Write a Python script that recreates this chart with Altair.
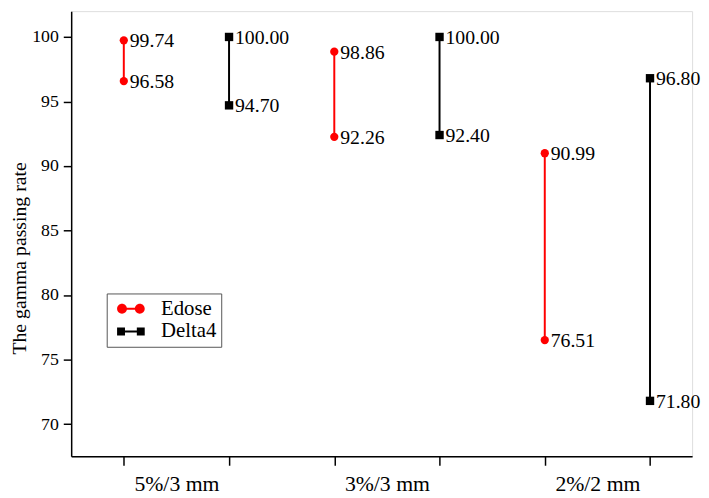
import altair as alt
import pandas as pd

criteria = ["5%/3 mm", "3%/3 mm", "2%/2 mm"]
devices = ["Edose", "Delta4"]
edose_low = [96.58, 92.26, 76.51]
edose_high = [99.74, 98.86, 90.99]
delta_low = [94.70, 92.40, 71.80]
delta_high = [100.00, 100.00, 96.80]
colors = ["#ff0000", "#000000"]
FONT = "Liberation Serif"

rows = []
for i, c in enumerate(criteria):
    for j, (d, lo, hi) in enumerate([("Edose", edose_low[i], edose_high[i]),
                                      ("Delta4", delta_low[i], delta_high[i])]):
        rows.append({"criterion": c, "device": d, "low": lo, "high": hi,
                     "pos": 2 * i + 1 + j})
df = pd.DataFrame(rows)
pts = pd.concat([
    df.assign(value=df["low"]),
    df.assign(value=df["high"]),
])
pts["label"] = pts["value"].map(lambda v: f"{v:.2f}")

label_pos = [2 * i + 1.5 for i in range(len(criteria))]
label_expr = " : ".join(
    [f"datum.value === {p} ? '{c}'" for p, c in zip(label_pos, criteria)]
) + " : ''"
x_values = sorted(list(range(1, 7)) + label_pos)

xscale = alt.Scale(domain=[0.5, 6.4], nice=False, zero=False)
yscale = alt.Scale(domain=[67.5, 102.0], nice=False, zero=False)

xaxis = alt.Axis(
    values=x_values, labelExpr=label_expr, title=None, grid=False,
    tickOpacity={"condition": {"test": "datum.value % 1 === 0", "value": 1}, "value": 0},
    tickSize=9, tickColor="black", tickWidth=1.5, domainColor="black", domainWidth=1.5,
    labelFont=FONT, labelFontSize=22, labelColor="black", labelPadding=9,
    labelAngle=0,
)
yaxis = alt.Axis(
    values=[70 + 2.5 * k for k in range(13)],
    labelExpr="datum.value % 5 === 0 ? datum.label : ''",
    title="The gamma passing rate", grid=False,
    tickSize={"condition": {"test": "datum.value % 5 === 0", "value": 8}, "value": 5},
    tickColor="black", tickWidth=1.5, domainColor="black", domainWidth=1.5,
    labelFont=FONT, labelFontSize=18, labelColor="black", labelPadding=5,
    titleFont=FONT, titleFontSize=20, titleFontWeight="normal", titleColor="black",
    titlePadding=2, titleY=250,
)

base = alt.Chart(df)
layers = []
for d, col, shp, sz in [("Edose", colors[0], "circle", 70), ("Delta4", colors[1], "square", 72)]:
    rule = base.transform_filter(alt.datum.device == d).mark_rule(
        color=col, strokeWidth=2
    ).encode(
        x=alt.X("pos:Q", scale=xscale, axis=xaxis),
        y=alt.Y("low:Q", scale=yscale, axis=yaxis),
        y2="high:Q",
    )
    pt = alt.Chart(pts).transform_filter(alt.datum.device == d).mark_point(
        filled=True, opacity=1, color=col, shape=shp, size=sz
    ).encode(
        x=alt.X("pos:Q", scale=xscale),
        y=alt.Y("value:Q", scale=yscale),
    )
    txt = alt.Chart(pts).transform_filter(alt.datum.device == d).mark_text(
        align="left", baseline="middle", dx=6, dy=1, font=FONT, fontSize=20, color="black"
    ).encode(
        x=alt.X("pos:Q", scale=xscale),
        y=alt.Y("value:Q", scale=yscale),
        text="label:N",
    )
    layers += [rule, pt, txt]

# legend glyphs: size 400 -> one path unit = 10 px
edose_sym = ("M-0.5,0A0.5,0.5,0,1,1,0.5,0A0.5,0.5,0,1,1,-0.5,0Z "
             "M1.3,0A0.5,0.5,0,1,1,2.3,0A0.5,0.5,0,1,1,1.3,0Z "
             "M0.3,-0.1H1.5V0.1H0.3Z")
delta_sym = ("M-0.5,-0.4H0.3V0.4H-0.5Z M1.5,-0.4H2.3V0.4H1.5Z "
             "M0.3,-0.1H1.5V0.1H0.3Z")

leg = dict(
    title=None, orient="none", legendX=36, legendY=286,
    strokeColor="#555555", padding=5,
    labelFont=FONT, labelFontSize=21, labelColor="black",
    labelOffset=29, rowPadding=1, symbolStrokeWidth=0, symbolSize=400,
)

legend_layer = alt.Chart(pts).transform_filter("false").mark_point(
    filled=True, opacity=1, size=400, strokeWidth=0
).encode(
    x=alt.X("pos:Q", scale=xscale),
    y=alt.Y("value:Q", scale=yscale),
    color=alt.Color("device:N", scale=alt.Scale(domain=devices, range=colors),
                    legend=alt.Legend(**leg)),
    shape=alt.Shape("device:N", scale=alt.Scale(domain=devices, range=[edose_sym, delta_sym]),
                    legend=alt.Legend(**leg)),
)
layers.append(legend_layer)

chart = alt.layer(*layers).properties(
    width=629, height=451, padding={"left": 2, "top": 0, "right": 0, "bottom": 0}
).configure_view(stroke=None).configure(background="white")

chart.save("out.html", embed_options={"renderer": "svg", "actions": False})
